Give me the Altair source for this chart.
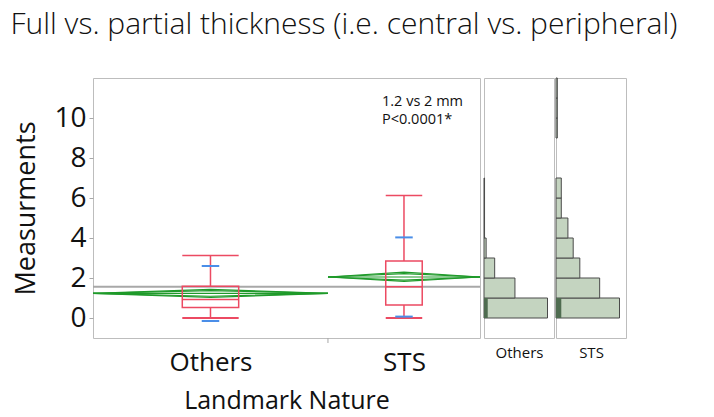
import altair as alt
import pandas as pd

# ---------------- data ----------------
groups = ["Others", "STS"]
group_n = [204, 132]            # x axis proportional to group size
means = [1.23, 2.05]
ci_low = [1.03, 1.83]
ci_high = [1.43, 2.29]
q1 = [0.53, 0.65]
medians = [0.93, 1.56]
q3 = [1.59, 2.85]
whisk_low = [0.0, 0.0]
whisk_high = [3.13, 6.12]
sd_low = [-0.15, 0.07]
sd_high = [2.60, 4.03]
grand_mean = 1.56

bin_starts = list(range(0, 12))
others_counts = [119, 58, 20, 4, 1, 1, 1, 0, 0, 0, 0, 0]
sts_counts = [48, 33, 18, 13, 9, 4, 4, 0, 0, 1, 1, 1]
first_bin_dark = [7, 4]

annotation = ["1.2 vs 2 mm", "P<0.0001*"]
y_ticks = list(range(0, 12))

# ---------------- styles ----------------
FONT = "Open Sans"
RED = "#ec4a62"
GREEN = "#1f9a2a"
BLUE = "#4a8ee8"
GRAY = "#a8a8a8"
FRAME = "#bdbdbd"
HIST_FILL = "#c4d4c0"
HIST_DARK = "#4f6c50"

total_n = sum(group_n)
lefts, rights, centers = [], [], []
acc = 0
for n in group_n:
    lefts.append(acc)
    rights.append(acc + n)
    centers.append(acc + n / 2)
    acc += n
divider = rights[0]
BOX_FRAC = 0.12
TICK_HALF = 7.6

box_df = pd.DataFrame({
    "g": groups,
    "bx": [c - n * BOX_FRAC for c, n in zip(centers, group_n)],
    "bx2": [c + n * BOX_FRAC for c, n in zip(centers, group_n)],
    "c": centers,
    "tx": [c - TICK_HALF for c in centers],
    "tx2": [c + TICK_HALF for c in centers],
    "q1": q1, "med": medians, "q3": q3,
    "wl": whisk_low, "wh": whisk_high,
    "sl": sd_low, "sh": sd_high,
})

rows = []
for gi, g in enumerate(groups):
    up = ci_high[gi] - means[gi]
    lo = means[gi] - ci_low[gi]
    for k in [1.0, 0.7071, 0.0, -0.7071, -1.0]:
        off = k * (up if k > 0 else lo)
        lid = f"{g}{k}"
        rows.append({"id": lid, "o": 0, "x": lefts[gi], "y": means[gi]})
        rows.append({"id": lid, "o": 1, "x": centers[gi], "y": means[gi] + off})
        rows.append({"id": lid, "o": 2, "x": rights[gi], "y": means[gi]})
dia_df = pd.DataFrame(rows)

gm_df = pd.DataFrame({"x": [0], "x2": [total_n], "y": [grand_mean]})
div_df = pd.DataFrame({"x": [divider]})

W, H = 387, 260
yscale = alt.Scale(domain=[-1, 12], nice=False, zero=False)
xscale = alt.Scale(domain=[0, total_n], nice=False, zero=False)

label_expr = f"datum.value < {divider} ? '{groups[0]}' : '{groups[1]}'"

base_box = alt.Chart(box_df)

gm = alt.Chart(gm_df).mark_rule(color=GRAY, strokeWidth=2).encode(
    x=alt.X("x:Q", scale=xscale,
            axis=alt.Axis(values=centers, labelExpr=label_expr, ticks=False,
                          domain=False, grid=False, labelFontSize=26,
                          labelFont=FONT, labelColor="#111", labelPadding=11,
                          title="Landmark Nature", titleFontSize=25,
                          titleFont=FONT, titleFontWeight="normal",
                          titleColor="#111", titlePadding=13)),
    x2="x2:Q",
    y=alt.Y("y:Q", scale=yscale,
            axis=alt.Axis(values=y_ticks,
                          labelExpr="datum.value % 2 == 0 ? datum.label : ''",
                          grid=False, domain=False, tickSize=4, tickColor=GRAY,
                          labelFontSize=28, labelFont=FONT, labelColor="#111",
                          labelPadding=3, title="Measurments", titleFontSize=27,
                          titleFont=FONT, titleFontWeight="normal",
                          titleColor="#111", titlePadding=13)),
)

diamonds = alt.Chart(dia_df).mark_line(color=GREEN, strokeWidth=1.2).encode(
    x="x:Q", y="y:Q", detail="id:N", order="o:Q"
)

box = base_box.mark_rect(fillOpacity=0, stroke=RED, strokeWidth=1.5).encode(
    x="bx:Q", x2="bx2:Q", y="q1:Q", y2="q3:Q"
)
median = base_box.mark_rule(color=RED, strokeWidth=1.5).encode(
    x="bx:Q", x2="bx2:Q", y="med:Q"
)
whisk_up = base_box.mark_rule(color=RED, strokeWidth=1.5).encode(
    x="c:Q", y="q3:Q", y2="wh:Q"
)
whisk_dn = base_box.mark_rule(color=RED, strokeWidth=1.5).encode(
    x="c:Q", y="wl:Q", y2="q1:Q"
)
cap_up = base_box.mark_rule(color=RED, strokeWidth=1.5).encode(
    x="bx:Q", x2="bx2:Q", y="wh:Q"
)
cap_dn = base_box.mark_rule(color=RED, strokeWidth=2).encode(
    x="bx:Q", x2="bx2:Q", y="wl:Q"
)
sd_hi = base_box.mark_rule(color=BLUE, strokeWidth=2).encode(
    x="tx:Q", x2="tx2:Q", y="sh:Q"
)
sd_lo = base_box.mark_rule(color=BLUE, strokeWidth=2).encode(
    x="tx:Q", x2="tx2:Q", y="sl:Q"
)
div_tick = alt.Chart(div_df).mark_rule(color=GRAY, strokeWidth=1).encode(
    x="x:Q", y=alt.value(H), y2=alt.value(H + 5)
)
note1 = alt.Chart(pd.DataFrame({"t": [annotation[0]]})).mark_text(
    align="left", baseline="alphabetic", fontSize=14.5, font=FONT, color="#111"
).encode(x=alt.value(289), y=alt.value(28), text="t")
note2 = alt.Chart(pd.DataFrame({"t": [annotation[1]]})).mark_text(
    align="left", baseline="alphabetic", fontSize=14.5, font=FONT, color="#111"
).encode(x=alt.value(289), y=alt.value(46), text="t")

main = alt.layer(gm, diamonds, box, median, whisk_up, whisk_dn, cap_up,
                 cap_dn, sd_hi, sd_lo, div_tick, note1, note2
                 ).properties(width=W, height=H)


def hist(name, counts, dark):
    df = pd.DataFrame({"b": bin_starts, "b2": [b + 1 for b in bin_starts],
                       "n": counts})
    df = df[df["n"] > 0]
    xmax = max(counts) * 70 / 63.5
    xs = alt.Scale(domain=[0, xmax], nice=False, zero=True)
    bars = alt.Chart(df).mark_rect(fill=HIST_FILL, stroke="#4a4a4a",
                                   strokeWidth=1).encode(
        x=alt.X("n:Q", scale=xs,
                axis=alt.Axis(labels=False, ticks=False, domain=False,
                              grid=False, title=name, titleFontSize=15,
                              titleFont=FONT, titleFontWeight="normal",
                              titleColor="#111", titlePadding=7)),
        x2=alt.X2(datum=0),
        y=alt.Y("b:Q", scale=yscale, axis=None),
        y2="b2:Q",
    )
    dk = alt.Chart(pd.DataFrame({"n": [dark], "b": [0], "b2": [1]})).mark_rect(
        fill=HIST_DARK).encode(x="n:Q", x2=alt.X2(datum=0), y="b:Q", y2="b2:Q")
    return alt.layer(bars, dk).properties(width=70, height=H)


h1 = hist(groups[0], others_counts, first_bin_dark[0])
h2 = hist(groups[1], sts_counts, first_bin_dark[1])

chart = alt.hconcat(main, h1, h2, spacing=0).properties(
    title=alt.TitleParams(
        text="Full vs. partial thickness (i.e. central vs. peripheral)",
        anchor="start", frame="bounds", fontSize=30, font=FONT,
        fontWeight=300, color="#111", dx=-2, offset=37),
    padding={"left": 2, "top": 2, "right": 0, "bottom": 0},
).configure_view(stroke=FRAME).configure_concat(spacing=0)

chart.save("out.html", embed_options={"renderer": "svg", "actions": False})
